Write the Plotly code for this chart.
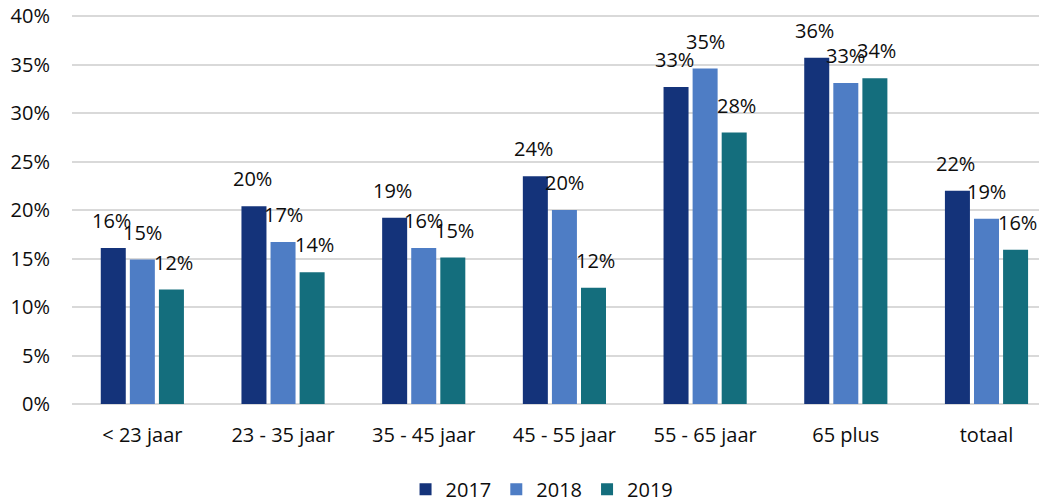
import plotly.graph_objects as go

categories = ["< 23 jaar", "23 - 35 jaar", "35 - 45 jaar", "45 - 55 jaar", "55 - 65 jaar", "65 plus", "totaal"]
tick_labels = ["&lt; 23 jaar", "23 - 35 jaar", "35 - 45 jaar", "45 - 55 jaar", "55 - 65 jaar", "65 plus", "totaal"]
years = ["2017", "2018", "2019"]
v2017 = [0.161, 0.204, 0.192, 0.235, 0.327, 0.357, 0.220]
v2018 = [0.149, 0.167, 0.161, 0.200, 0.346, 0.331, 0.191]
v2019 = [0.118, 0.136, 0.151, 0.120, 0.280, 0.336, 0.159]
y_ticks = [0, 0.05, 0.10, 0.15, 0.20, 0.25, 0.30, 0.35, 0.40]

series = [v2017, v2018, v2019]
colors = ["#14337a", "#4e7dc5", "#146e7d"]
FONT = "Open Sans"
TXT = "#0d0d0d"

fig = go.Figure()
for name, vals, col in zip(years, series, colors):
    fig.add_trace(go.Bar(
        name=name, x=categories, y=vals,
        marker=dict(color=col, line=dict(width=0)),
        hoverinfo="x+y",
    ))

# data labels above each bar
shifts = [-31, 0, 31]
annotations = []
for vals, dx in zip(series, shifts):
    for c, v in zip(categories, vals):
        annotations.append(dict(
            x=c, y=v, xref="x", yref="y", text=f"{round(v*100):d}%",
            showarrow=False, xanchor="center", yanchor="bottom",
            xshift=dx, yshift=12, font=dict(family=FONT, size=20, color=TXT),
        ))

# page body has an 8px margin, so the figure is 8px smaller than the window
fig.update_layout(
    width=1039, height=494,
    margin=dict(l=64, r=0, t=7, b=98, autoexpand=False),
    paper_bgcolor="white", plot_bgcolor="white",
    barmode="group", bargap=0.38, bargroupgap=0.14,
    font=dict(family=FONT, size=20, color=TXT),
    showlegend=True,
    legend=dict(orientation="h", xref="container", yref="paper",
                x=0.514, y=-0.219, xanchor="center", yanchor="middle",
                font=dict(family=FONT, size=20, color=TXT),
                itemwidth=30, traceorder="normal"),
    annotations=annotations,
)
fig.update_xaxes(
    type="category", range=[-0.5, 6.43], automargin=False,
    tickvals=categories, ticktext=tick_labels,
    showgrid=False, showline=False, zeroline=False, ticks="",
    ticklabelstandoff=17,
    tickfont=dict(family=FONT, size=20, color=TXT),
)
fig.update_yaxes(
    range=[0, 0.4012], tickvals=y_ticks, tickformat=".0%", automargin=False,
    showgrid=True, gridcolor="#d9d9d9", gridwidth=1.5,
    zeroline=True, zerolinecolor="#d9d9d9", zerolinewidth=1.5,
    showline=False, ticks="", ticklabelstandoff=21,
    ticklabeloverflow="allow",
    tickfont=dict(family=FONT, size=20, color=TXT),
)

fig.write_html("out.html")
